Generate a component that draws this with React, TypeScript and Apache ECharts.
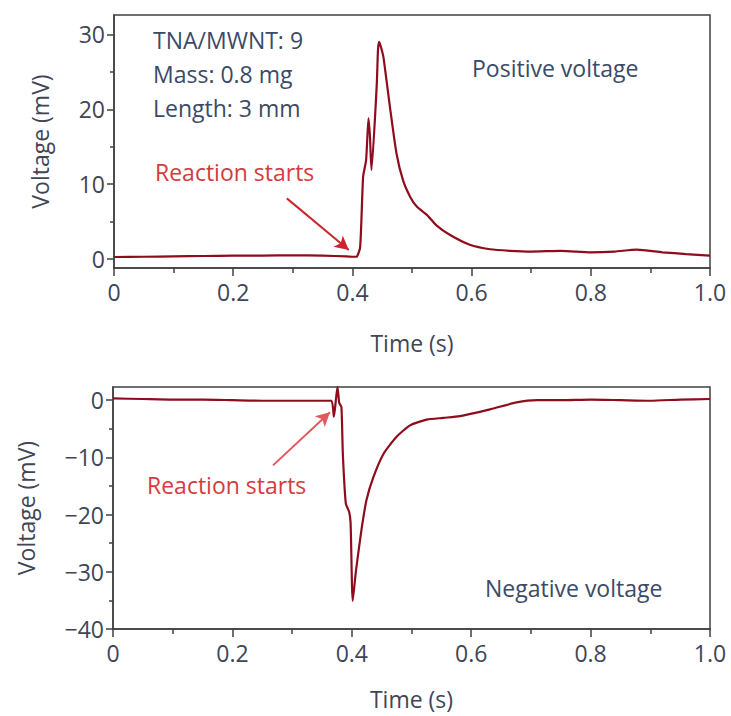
import React, { useEffect, useRef } from "react";
import * as echarts from "echarts";

// Top panel (positive voltage)
const topTime = [0, 0.05, 0.1, 0.15, 0.2, 0.25, 0.3, 0.35, 0.39, 0.403, 0.407, 0.413, 0.418, 0.423, 0.427, 0.4295, 0.432, 0.4407, 0.443, 0.445, 0.448, 0.452, 0.463, 0.474, 0.485, 0.497, 0.508, 0.525, 0.541, 0.564, 0.597, 0.631, 0.664, 0.7, 0.75, 0.8, 0.84, 0.877, 0.92, 0.96, 1.0];
const topVoltage = [0.27, 0.3, 0.35, 0.4, 0.45, 0.45, 0.5, 0.45, 0.35, 0.3, 0.3, 1.6, 11, 13.2, 18.8, 16.3, 11.9, 23, 28, 29, 28.3, 27, 20.3, 14.1, 10.5, 8.3, 7.0, 5.9, 4.5, 3.2, 1.9, 1.3, 1.1, 1.0, 1.1, 0.9, 1.0, 1.25, 0.9, 0.66, 0.45];

// Bottom panel (negative voltage)
const bottomTime = [0, 0.05, 0.1, 0.15, 0.2, 0.25, 0.3, 0.35, 0.366, 0.37, 0.373, 0.376, 0.379, 0.3826, 0.385, 0.39, 0.3955, 0.398, 0.4015, 0.407, 0.416, 0.4245, 0.436, 0.453, 0.475, 0.4975, 0.5255, 0.5535, 0.581, 0.6147, 0.6315, 0.676, 0.71, 0.75, 0.8, 0.85, 0.9, 0.95, 1.0];
const bottomVoltage = [0.3, 0.2, 0.1, 0.1, 0.0, -0.1, -0.1, -0.1, -0.1, -2.9, -0.3, 2.3, -0.5, -1.2, -9.4, -18.1, -19.5, -21.5, -35.1, -29.8, -22.8, -17.5, -13.5, -9.4, -6.4, -4.4, -3.4, -3.1, -2.8, -2.05, -1.6, -0.4, 0, 0.0, 0.1, 0.0, -0.1, 0.1, 0.2];

const topMajorTicks = [0, 10, 20, 30];
const topMinorTicks = [5, 15, 25];
const bottomMajorTicks = [-40, -30, -20, -10, 0];
const bottomMinorTicks = [-35, -25, -15, -5];

// Arrow annotations [start, end] in data coordinates
const topArrow = [[0.29, 8.1], [0.394, 1.2]];
const bottomArrow = [[0.268, -11.4], [0.3635, -2.1]];

const FONT = "Open Sans";
const TICK_COLOR = "#404656";
const ANNO_COLOR = "#3b4a66";
const AXIS_COLOR = "#404040";
const LINE_COLOR = "#8e0c1c";

function zip(a: number[], b: number[]) {
  return a.map((x, i) => [x, b[i]]);
}

export default function App() {
  const ref = useRef<HTMLDivElement>(null);
  useEffect(() => {
    document.body.style.margin = "0";
    if (!ref.current) return;
    const chart = echarts.init(ref.current, null, { renderer: "svg" });

    const xAxisBase = (gridIndex: number) => ({
      type: "value" as const,
      gridIndex,
      min: 0,
      max: 1,
      interval: 0.2,
      name: "Time (s)",
      nameLocation: "middle" as const,
      nameGap: gridIndex === 0 ? 63 : 58,
      nameTextStyle: { fontFamily: FONT, fontSize: 23, color: TICK_COLOR },
      axisLine: { show: true, onZero: false, lineStyle: { color: AXIS_COLOR, width: 1.5 } },
      axisTick: { show: true, inside: false, length: 8, lineStyle: { color: AXIS_COLOR, width: 1.5 } },
      minorTick: { show: true, splitNumber: 2, length: 5, lineStyle: { color: AXIS_COLOR, width: 1.5 } },
      splitLine: { show: false },
      minorSplitLine: { show: false },
      axisLabel: {
        fontFamily: FONT,
        fontSize: 23,
        color: TICK_COLOR,
        margin: 12,
        formatter: (v: number) => (v === 0 ? "0" : v.toFixed(1)),
      },
    });

    const yMajor = (gridIndex: number, min: number, max: number, ticks: number[]) => ({
      type: "value" as const,
      gridIndex,
      min,
      max,
      name: "Voltage (mV)",
      nameLocation: "middle" as const,
      nameGap: gridIndex === 0 ? 63 : 76,
      nameTextStyle: { fontFamily: FONT, fontSize: 23, color: TICK_COLOR },
      axisLine: { show: true, onZero: false, lineStyle: { color: AXIS_COLOR, width: 1.5 } },
      axisTick: { show: true, inside: false, length: 7, customValues: ticks, lineStyle: { color: AXIS_COLOR, width: 1.5 } },
      splitLine: { show: false },
      axisLabel: {
        fontFamily: FONT,
        fontSize: 23,
        color: TICK_COLOR,
        margin: 9,
        customValues: ticks,
        formatter: (v: number) => (v < 0 ? "\u2212" + Math.abs(v) : String(v)),
      },
    });

    const yMinor = (gridIndex: number, min: number, max: number, ticks: number[]) => ({
      type: "value" as const,
      gridIndex,
      min,
      max,
      position: "left" as const,
      axisLine: { show: false, onZero: false },
      axisTick: { show: true, inside: false, length: 4, customValues: ticks, lineStyle: { color: AXIS_COLOR, width: 1.5 } },
      axisLabel: { show: false, customValues: ticks },
      splitLine: { show: false },
    });

    const arrowLine = (arrow: number[][], color: string) => ({
      silent: true,
      symbol: ["none", "arrow"],
      symbolSize: [11, 14],
      label: { show: false },
      lineStyle: { color, width: 2, type: "solid" as const },
      data: [[{ coord: arrow[0] }, { coord: arrow[1] }]],
    });

    const text = (t: string, left: number, top: number, color: string, size: number) => ({
      type: "text" as const,
      left,
      top,
      style: { text: t, fill: color, font: `${size}px "${FONT}"` },
      silent: true,
    });

    chart.setOption({
      animation: false,
      backgroundColor: "#ffffff",
      grid: [
        { left: 114, right: 21, top: 15, height: 253, show: true, borderColor: AXIS_COLOR, borderWidth: 1.5, backgroundColor: "transparent" },
        { left: 113, right: 21, top: 387, height: 242, show: true, borderColor: AXIS_COLOR, borderWidth: 1.5, backgroundColor: "transparent" },
      ],
      xAxis: [xAxisBase(0), xAxisBase(1)],
      yAxis: [
        yMajor(0, -1.2, 32.6, topMajorTicks),
        yMinor(0, -1.2, 32.6, topMinorTicks),
        yMajor(1, -40, 2.3, bottomMajorTicks),
        yMinor(1, -40, 2.3, bottomMinorTicks),
      ],
      series: [
        {
          type: "line",
          xAxisIndex: 0,
          yAxisIndex: 0,
          data: zip(topTime, topVoltage),
          showSymbol: false,
          smooth: 0.2,
          lineStyle: { color: LINE_COLOR, width: 2.2 },
          markLine: arrowLine(topArrow, "#cc2530"),
        },
        {
          type: "line",
          xAxisIndex: 1,
          yAxisIndex: 2,
          data: zip(bottomTime, bottomVoltage),
          showSymbol: false,
          smooth: 0.2,
          lineStyle: { color: LINE_COLOR, width: 2.2 },
          markLine: arrowLine(bottomArrow, "#de5a5c"),
        },
      ],
      graphic: [
        text("TNA/MWNT: 9", 153, 28, ANNO_COLOR, 23),
        text("Mass: 0.8 mg", 153, 62, ANNO_COLOR, 23),
        text("Length: 3 mm", 153, 96, ANNO_COLOR, 23),
        text("Positive voltage", 472, 56, ANNO_COLOR, 23),
        text("Reaction starts", 155, 160, "#d63a3e", 23),
        text("Reaction starts", 147, 473, "#d63a3e", 23),
        text("Negative voltage", 485, 576, ANNO_COLOR, 23),
      ],
    });
    return () => chart.dispose();
  }, []);
  return <div ref={ref} style={{ width: 731, height: 716 }} />;
}
